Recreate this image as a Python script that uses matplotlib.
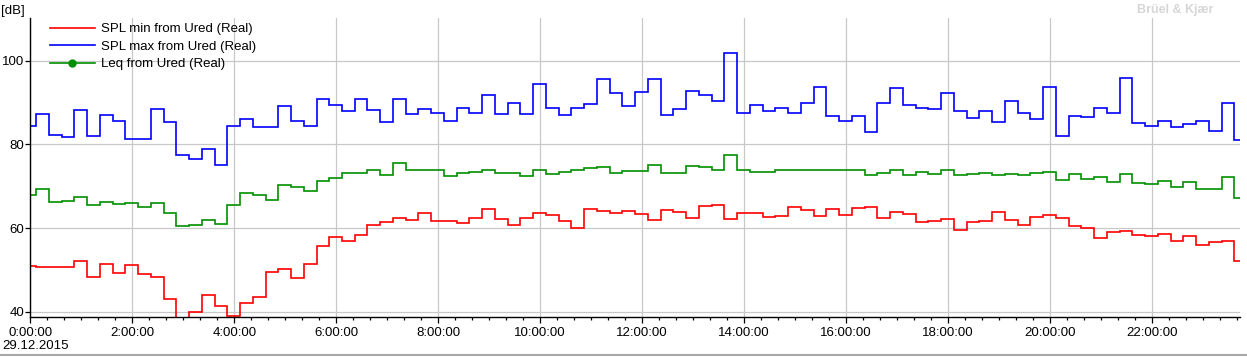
import numpy as np
import matplotlib.pyplot as plt
from matplotlib.lines import Line2D
from matplotlib.legend_handler import HandlerLine2D
from matplotlib.ticker import MultipleLocator, FuncFormatter

# 15 minute intervals (values in dB), 29.12.2015
spl_min = [51.0, 50.7, 50.7, 50.7, 52.1, 48.3, 51.4, 49.3, 51.2, 49.0,
           48.3, 43.1, 38.0, 40.0, 44.0, 41.4, 39.1, 42.1, 43.6, 49.5,
           50.2, 48.1, 51.4, 55.7, 57.9, 56.9, 58.3, 60.7, 61.4, 62.4,
           61.9, 63.6, 61.7, 61.7, 61.2, 62.4, 64.5, 62.1, 60.7, 62.4,
           63.6, 63.1, 61.7, 60.0, 64.5, 64.0, 63.6, 64.0, 63.3, 61.9,
           64.3, 63.8, 62.4, 65.2, 65.5, 62.1, 63.6, 63.6, 62.6, 62.9,
           65.0, 64.3, 62.9, 64.5, 63.1, 64.8, 65.0, 62.4, 63.8, 63.3,
           61.4, 61.7, 62.1, 59.5, 61.4, 61.7, 63.8, 61.9, 60.7, 62.6,
           63.1, 62.4, 60.5, 60.0, 57.6, 59.0, 59.3, 58.3, 58.1, 58.6,
           56.9, 58.1, 56.0, 56.7, 56.9, 52.1]

spl_max = [84.3, 87.2, 82.2, 81.7, 88.1, 81.9, 86.9, 85.5, 81.2, 81.4,
           88.4, 85.3, 77.4, 76.4, 78.8, 75.1, 84.3, 86.0, 84.1, 84.1,
           89.1, 85.5, 84.3, 90.8, 89.3, 87.9, 90.8, 88.1, 85.3, 90.9,
           87.2, 88.4, 87.4, 85.7, 88.8, 87.6, 91.7, 87.2, 89.8, 87.2,
           94.3, 88.8, 86.9, 88.8, 89.6, 95.5, 92.2, 89.1, 92.4, 95.5,
           86.9, 88.4, 92.7, 91.7, 90.3, 101.8, 87.4, 89.3, 87.9, 88.8,
           87.6, 89.8, 93.6, 86.7, 85.7, 86.7, 82.9, 89.8, 93.4, 89.3,
           88.6, 88.4, 92.2, 87.9, 86.2, 87.9, 85.3, 90.3, 87.6, 86.0,
           93.6, 81.9, 86.7, 86.5, 88.8, 87.6, 95.8, 85.0, 84.5, 85.5,
           84.1, 84.8, 85.7, 83.1, 90.0, 81.0]

leq = [67.9, 69.3, 66.2, 66.4, 67.4, 65.5, 66.2, 65.7, 66.0, 65.0,
       66.0, 63.6, 60.5, 60.7, 61.9, 61.0, 65.5, 68.3, 67.9, 66.7,
       70.2, 69.8, 68.8, 71.2, 71.9, 73.1, 73.1, 73.8, 72.6, 75.5,
       74.0, 73.8, 73.8, 72.4, 73.1, 73.3, 74.0, 73.1, 73.1, 72.4,
       73.8, 72.9, 73.3, 74.0, 74.3, 74.5, 73.1, 73.6, 73.6, 75.0,
       73.1, 73.1, 74.8, 74.5, 73.8, 77.4, 73.8, 73.3, 73.3, 74.0,
       74.0, 74.0, 74.0, 74.0, 73.8, 73.8, 72.6, 73.1, 73.8, 72.6,
       73.3, 72.9, 73.8, 72.6, 72.9, 73.1, 72.6, 72.9, 72.6, 73.1,
       73.3, 71.4, 72.9, 71.7, 72.1, 71.0, 72.9, 70.7, 70.5, 71.2,
       69.8, 71.0, 69.3, 69.3, 72.1, 67.1]

labels = ["SPL min from Ured (Real)", "SPL max from Ured (Real)", "Leq from Ured (Real)"]
colors = ["#ff0000", "#0000ff", "#009000"]

# time axis in hours: first interval boundary at 0:06:50, then every 15 min
first_edge = 0.113
interval = 0.25
t_end = 23.73
n = len(spl_max)
edges = np.concatenate([[0.0], first_edge + interval * np.arange(n - 1), [t_end]])

W, H = 1247, 357
plt.rcParams['font.family'] = ['Liberation Sans', 'DejaVu Sans']
plt.rcParams['font.size'] = 9

fig = plt.figure(figsize=(W / 100, H / 100), dpi=100)
ax = fig.add_axes([30.3 / W, 1 - 317 / H, 1210 / W, (317 - 18.3) / H])

for vals, c in zip([spl_min, spl_max, leq], colors):
    ax.stairs(vals, edges, color=c, linewidth=1.2, baseline=None)

ax.set_xlim(0, t_end)
ax.set_ylim(38.8, 110.1)
ax.set_yticks([40, 60, 80, 100])
ax.xaxis.set_major_locator(MultipleLocator(2))
ax.xaxis.set_minor_locator(MultipleLocator(1 / 3))
ax.xaxis.set_major_formatter(FuncFormatter(lambda v, p: f"{int(round(v))}:00:00"))

ax.grid(True, which='major', color='#c8c8c8', linewidth=0.9)
ax.set_axisbelow(True)
for s in ['top', 'right']:
    ax.spines[s].set_visible(False)
for s in ['left', 'bottom']:
    ax.spines[s].set_linewidth(1.0)
ax.tick_params(axis='x', which='major', length=4, width=0.9, pad=3, labelsize=9.5)
ax.tick_params(axis='x', which='minor', length=2, width=0.9)
ax.tick_params(axis='y', length=3.5, width=0.9, pad=1, labelsize=9.5)


class LeftMarker(HandlerLine2D):
    def get_xdata(self, legend, xdescent, ydescent, width, height, fontsize):
        xdata, _ = super().get_xdata(legend, xdescent, ydescent, width, height, fontsize)
        return xdata, np.asarray(xdata)[:1]


handles = [Line2D([], [], color=colors[0], linewidth=1.2),
           Line2D([], [], color=colors[1], linewidth=1.2),
           Line2D([], [], color=colors[2], linewidth=1.2, marker='o', markersize=5)]
leg = ax.legend(handles, labels, loc='upper left', bbox_to_anchor=(50 / W, 1 - 23 / H),
                bbox_transform=fig.transFigure, frameon=False, borderpad=0,
                borderaxespad=0, handlelength=3.4, handletextpad=0.5,
                labelspacing=0.40, fontsize=9.5, numpoints=1,
                handler_map={handles[2]: LeftMarker(numpoints=1)})

fig.text(1 / W, 1 - 11 / H, "[dB]", fontsize=9.5, va='center', ha='left')
fig.text(2 / W, 1 - 346 / H, "29.12.2015", fontsize=9.5, va='center', ha='left')
fig.text(1213 / W, 1 - 10 / H, "Brüel & Kjær", fontsize=9, fontweight='bold',
         color='#d6d6d6', va='center', ha='right')
fig.add_artist(Line2D([0, 1], [1 - 354.5 / H, 1 - 354.5 / H], transform=fig.transFigure,
                      color='#a8a8a8', linewidth=1.5))

fig.savefig("out.png", dpi=100)
